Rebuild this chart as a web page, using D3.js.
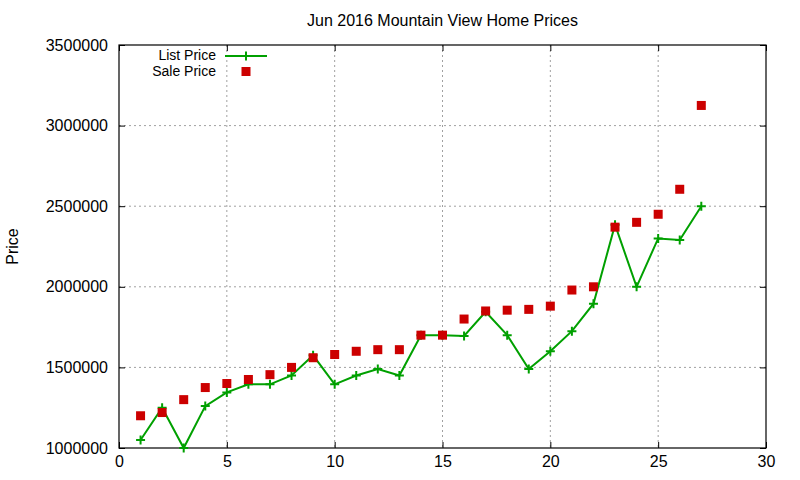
<!DOCTYPE html>
<html>
<head>
<meta charset="utf-8">
<script src="https://cdn.jsdelivr.net/npm/d3@7"></script>
<style>
  body { margin: 0; background: #fff; }
  svg { font-family: "Liberation Sans", Arial, sans-serif; }
</style>
</head>
<body>
<div id="chart"></div>
<script>
// Data
const days = [1, 2, 3, 4, 5, 6, 7, 8, 9, 10, 11, 12, 13, 14, 15, 16, 17, 18, 19, 20, 21, 22, 23, 24, 25, 26, 27];
const listPrice = [1050000, 1250000, 1000000, 1260000, 1345000, 1395000, 1395000, 1450000, 1575000, 1395000,
    1450000, 1490000, 1450000, 1700000, 1700000, 1695000, 1845000, 1700000, 1490000, 1600000,
    1725000, 1895000, 2385000, 2000000, 2300000, 2290000, 2500000];
const salePrice = [1200000, 1220000, 1300000, 1375000, 1400000, 1425000, 1455000, 1500000, 1560000, 1580000,
    1600000, 1610000, 1610000, 1700000, 1700000, 1800000, 1850000, 1855000, 1860000, 1880000,
    1980000, 2000000, 2370000, 2400000, 2450000, 2605000, 3125000];
const xTicks = [0, 5, 10, 15, 20, 25, 30];
const yTicks = [1000000, 1500000, 2000000, 2500000, 3000000, 3500000];

const W = 800, H = 480;
const margin = {top: 45, right: 34, bottom: 32, left: 119};
const width = W - margin.left - margin.right;
const height = H - margin.top - margin.bottom;
const green = '#00a000', red = '#cc0000';
const fontSize = 16;

const svg = d3.select('#chart').append('svg')
    .attr('width', W)
    .attr('height', H);

const g = svg.append('g')
    .attr('transform', `translate(${margin.left},${margin.top})`);

const x = d3.scaleLinear().domain([0, 30]).range([0, width]);
const y = d3.scaleLinear().domain([1000000, 3500000]).range([height, 0]);

// Grid
g.append('g').selectAll('line')
    .data(xTicks.slice(1, -1))
    .enter().append('line')
    .attr('x1', d => x(d)).attr('x2', d => x(d))
    .attr('y1', 0).attr('y2', height)
    .attr('stroke', '#a0a0a0').attr('stroke-dasharray', '2,3');
g.append('g').selectAll('line')
    .data(yTicks.slice(1, -1))
    .enter().append('line')
    .attr('x1', 0).attr('x2', width)
    .attr('y1', d => y(d)).attr('y2', d => y(d))
    .attr('stroke', '#a0a0a0').attr('stroke-dasharray', '2,3');

// Axes, ticks pointing inward, mirrored like gnuplot
const styleAxis = sel => {
    sel.select('.domain').remove();
    sel.selectAll('line').attr('stroke', '#000');
    sel.selectAll('text').attr('font-size', fontSize).attr('fill', '#000')
        .attr('font-family', '"Liberation Sans", Arial, sans-serif');
};
g.append('g')
    .attr('transform', `translate(0,${height})`)
    .call(d3.axisBottom(x).tickValues(xTicks).tickSizeInner(-6).tickSizeOuter(0).tickPadding(8))
    .call(styleAxis);
g.append('g')
    .call(d3.axisTop(x).tickValues(xTicks).tickSizeInner(-6).tickSizeOuter(0).tickFormat(''))
    .call(styleAxis);
g.append('g')
    .call(d3.axisLeft(y).tickValues(yTicks).tickSizeInner(-6).tickSizeOuter(0).tickPadding(11).tickFormat(d3.format('d')))
    .call(styleAxis);
g.append('g')
    .attr('transform', `translate(${width},0)`)
    .call(d3.axisRight(y).tickValues(yTicks).tickSizeInner(-6).tickSizeOuter(0).tickFormat(''))
    .call(styleAxis);

g.append('rect')
    .attr('width', width).attr('height', height)
    .attr('fill', 'none').attr('stroke', '#000').attr('stroke-width', 1.2);

// List price line
const listData = days.map((d, i) => ({x: d, y: listPrice[i]}));
const saleData = days.map((d, i) => ({x: d, y: salePrice[i]}));

g.append('path')
    .datum(listData)
    .attr('fill', 'none')
    .attr('stroke', green)
    .attr('stroke-width', 2)
    .attr('d', d3.line().x(d => x(d.x)).y(d => y(d.y)));

const plus = (sel, s) => sel.append('path')
    .attr('d', `M${-s},0H${s}M0,${-s}V${s}`)
    .attr('stroke', green).attr('stroke-width', 2).attr('fill', 'none');

g.append('g').selectAll('g')
    .data(listData)
    .enter().append('g')
    .attr('transform', d => `translate(${x(d.x)},${y(d.y)})`)
    .each(function () { plus(d3.select(this), 4.5); });

// Sale price squares
g.append('g').selectAll('rect')
    .data(saleData)
    .enter().append('rect')
    .attr('x', d => x(d.x) - 4.5)
    .attr('y', d => y(d.y) - 4.5)
    .attr('width', 9).attr('height', 9)
    .attr('fill', red);

// Title and y label
svg.append('text')
    .attr('x', margin.left + width / 2).attr('y', 26)
    .attr('text-anchor', 'middle')
    .attr('font-size', fontSize)
    .text('Jun 2016 Mountain View Home Prices');

svg.append('text')
    .attr('transform', `translate(18,${margin.top + height / 2}) rotate(-90)`)
    .attr('text-anchor', 'middle')
    .attr('font-size', fontSize)
    .text('Price');

// Legend (slightly smaller text so the two rows do not collide)
const legend = svg.append('g');
legend.append('text')
    .attr('x', 216).attr('y', 60)
    .attr('text-anchor', 'end').attr('font-size', 14)
    .text('List Price');
legend.append('line')
    .attr('x1', 225).attr('x2', 267).attr('y1', 56).attr('y2', 56)
    .attr('stroke', green).attr('stroke-width', 2);
legend.append('g')
    .attr('transform', 'translate(246,56)')
    .call(sel => plus(sel, 4.5));
legend.append('text')
    .attr('x', 216).attr('y', 76)
    .attr('text-anchor', 'end').attr('font-size', 14)
    .text('Sale Price');
legend.append('rect')
    .attr('x', 241.5).attr('y', 67).attr('width', 9).attr('height', 9)
    .attr('fill', red);
</script>
</body>
</html>
